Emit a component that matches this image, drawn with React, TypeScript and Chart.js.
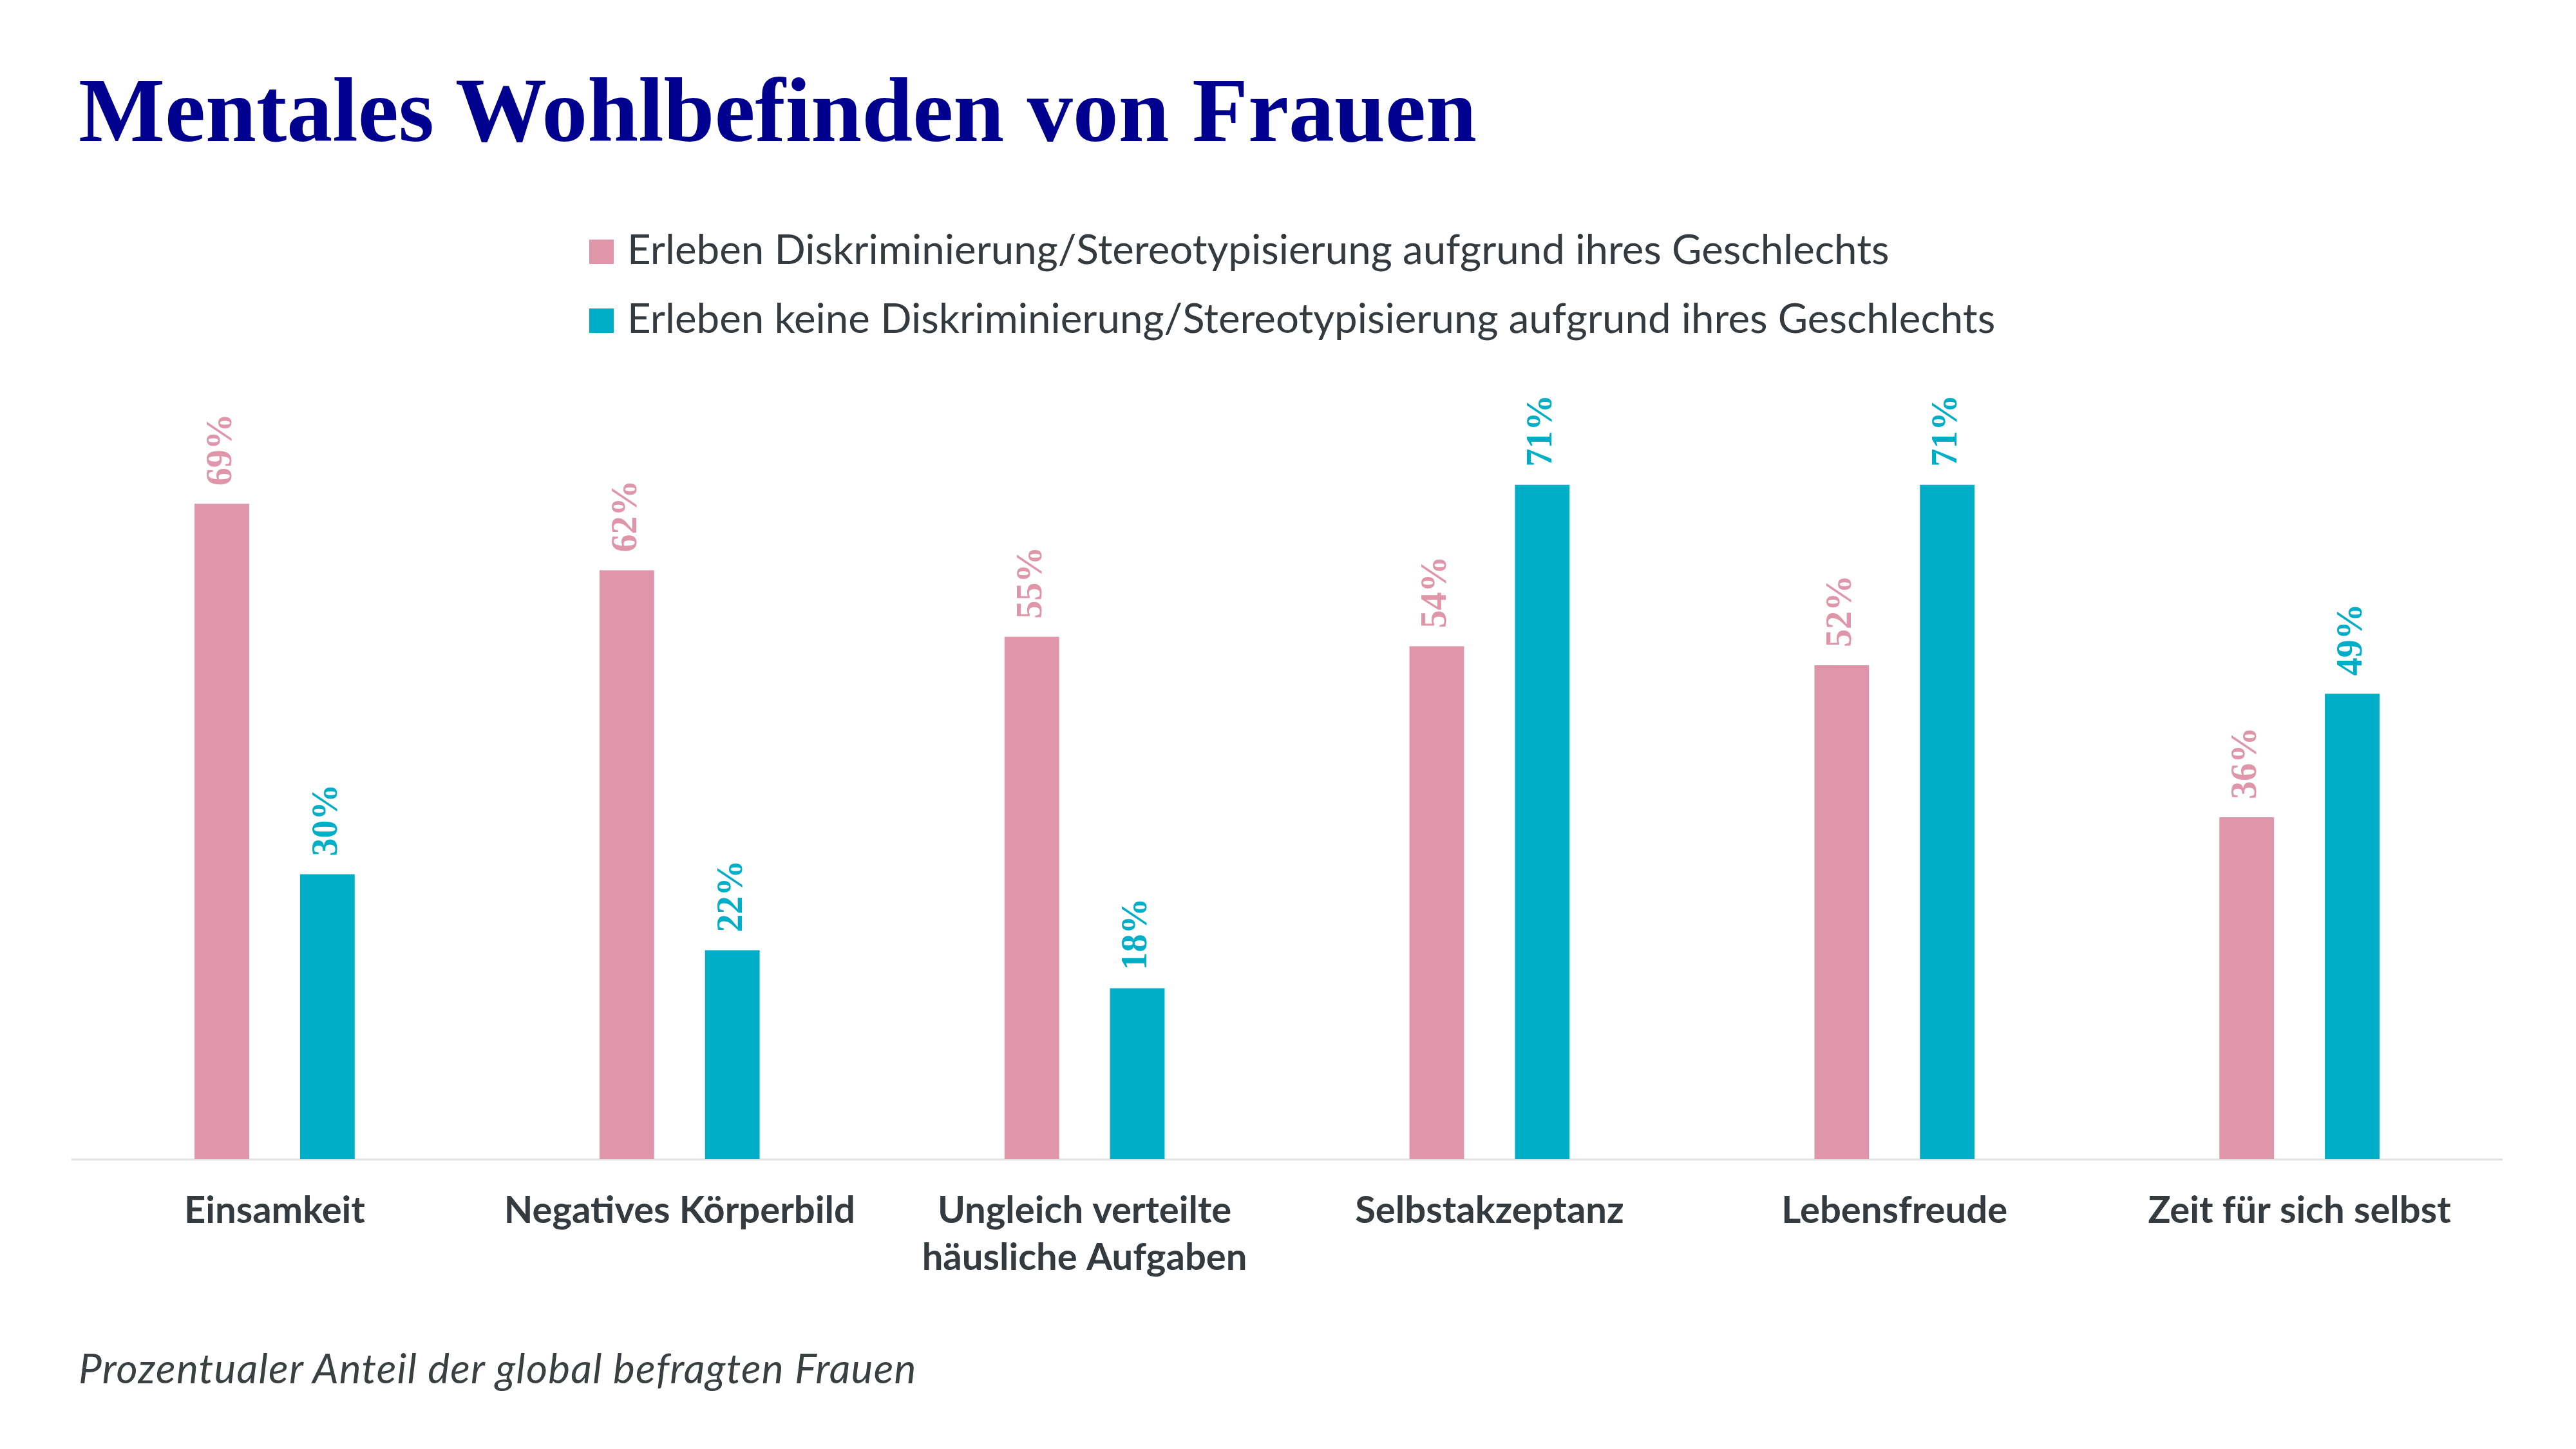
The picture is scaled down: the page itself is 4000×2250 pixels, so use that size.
import { useEffect, useRef } from 'react';
import { Chart, registerables } from 'chart.js';
import type { Plugin } from 'chart.js';

Chart.register(...registerables);

// Chart data
const categories: (string | string[])[] = [
  'Einsamkeit',
  'Negatives Körperbild',
  ['Ungleich verteilte', 'häusliche Aufgaben'],
  'Selbstakzeptanz',
  'Lebensfreude',
  'Zeit für sich selbst',
];
const seriesNames = [
  'Erleben Diskriminierung/Stereotypisierung aufgrund ihres Geschlechts',
  'Erleben keine Diskriminierung/Stereotypisierung aufgrund ihres Geschlechts',
];
const withDiscrimination = [69, 62, 55, 54, 52, 36];
const withoutDiscrimination = [30, 22, 18, 71, 71, 49];
const seriesColors = ['#E096AA', '#00AEC7'];

const titleText = 'Mentales Wohlbefinden von Frauen';
const footnoteText = 'Prozentualer Anteil der global befragten Frauen';

const TEXT_COLOR = '#343a3d';

// Rotated value labels above each bar
const barValueLabels: Plugin<'bar'> = {
  id: 'barValueLabels',
  afterDatasetsDraw(chart) {
    const { ctx } = chart;
    chart.data.datasets.forEach((ds, di) => {
      const meta = chart.getDatasetMeta(di);
      meta.data.forEach((bar, i) => {
        const v = ds.data[i] as number;
        ctx.save();
        ctx.translate(bar.x, bar.y - 28);
        ctx.rotate(-Math.PI / 2);
        ctx.font = 'bold 56px "Liberation Serif"';
        ctx.fillStyle = ds.backgroundColor as string;
        ctx.textAlign = 'left';
        ctx.textBaseline = 'middle';
        ctx.fillText(`${v}%`, 0, 0);
        ctx.restore();
      });
    });
  },
};

function MentalHealthChart() {
  const canvasRef = useRef<HTMLCanvasElement>(null);

  useEffect(() => {
    if (!canvasRef.current) return;
    const chart = new Chart(canvasRef.current, {
      type: 'bar',
      data: {
        labels: categories,
        datasets: [
          {
            label: seriesNames[0],
            data: withDiscrimination,
            backgroundColor: seriesColors[0],
            categoryPercentage: 0.521,
            barPercentage: 0.518,
          },
          {
            label: seriesNames[1],
            data: withoutDiscrimination,
            backgroundColor: seriesColors[1],
            categoryPercentage: 0.521,
            barPercentage: 0.518,
          },
        ],
      },
      options: {
        animation: false,
        responsive: true,
        maintainAspectRatio: false,
        devicePixelRatio: 1,
        layout: { padding: { left: 112, right: 115, top: 325, bottom: 0 } },
        plugins: {
          legend: { display: false },
          title: { display: false },
          tooltip: { enabled: false },
        },
        scales: {
          x: {
            grid: { display: false, drawTicks: false },
            border: { display: true, color: '#e0e3e3', width: 3 },
            ticks: {
              color: TEXT_COLOR,
              padding: 43,
              maxRotation: 0,
              autoSkip: false,
              font: { family: 'Lato', size: 58, weight: 'bold', lineHeight: 1.27 },
            },
            afterFit: (scale) => {
              scale.height = 450;
            },
          },
          y: {
            display: false,
            min: 0,
            max: 100,
          },
        },
      },
      plugins: [barValueLabels],
    });
    return () => chart.destroy();
  }, []);

  return (
    <div style={{ position: 'absolute', left: 0, top: 0, width: 4000, height: 2250 }}>
      <canvas ref={canvasRef} />
    </div>
  );
}

export default function App() {
  useEffect(() => {
    document.body.style.margin = '0';
    document.body.style.background = '#ffffff';
  }, []);

  return (
    <div
      style={{
        position: 'relative',
        width: 4000,
        height: 2250,
        background: '#ffffff',
        overflow: 'hidden',
      }}
    >
      <MentalHealthChart />
      <div
        style={{
          position: 'absolute',
          left: 122,
          top: 100,
          fontFamily: '"Liberation Serif", serif',
          fontWeight: 'bold',
          fontSize: 142,
          lineHeight: 1,
          color: '#00008F',
          whiteSpace: 'nowrap',
        }}
      >
        {titleText}
      </div>
      {seriesNames.map((name, i) => (
        <div key={name}>
          <div
            style={{
              position: 'absolute',
              left: 915,
              top: 372 + i * 107,
              width: 38,
              height: 38,
              background: seriesColors[i],
            }}
          />
          <div
            style={{
              position: 'absolute',
              left: 974,
              top: 354 + i * 107,
              fontFamily: 'Lato, sans-serif',
              fontSize: 63.6,
              lineHeight: 1,
              color: TEXT_COLOR,
              whiteSpace: 'nowrap',
            }}
          >
            {name}
          </div>
        </div>
      ))}
      <div
        style={{
          position: 'absolute',
          left: 122,
          top: 2092,
          fontFamily: 'Lato, sans-serif',
          fontStyle: 'italic',
          fontSize: 64,
          letterSpacing: 1.2,
          lineHeight: 1,
          color: '#3a3f42',
          whiteSpace: 'nowrap',
        }}
      >
        {footnoteText}
      </div>
    </div>
  );
}
